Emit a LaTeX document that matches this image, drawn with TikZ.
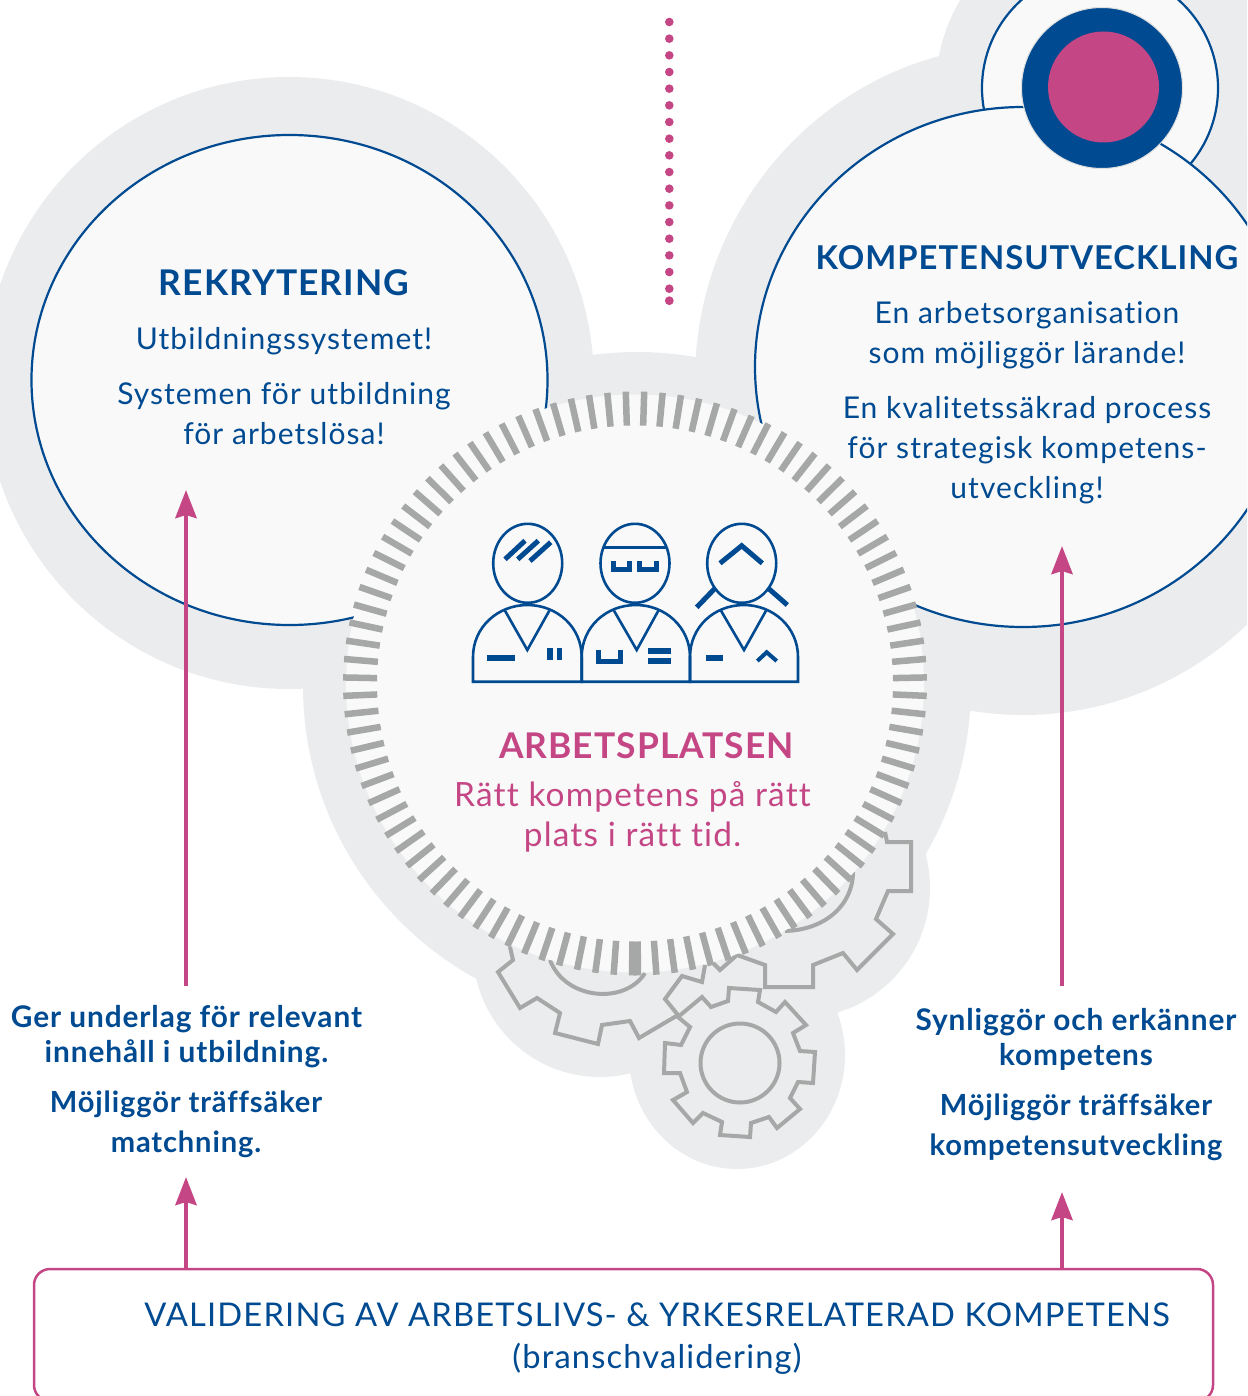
\documentclass[tikz,border=0pt]{standalone}
\usepackage{fontspec}
\setmainfont{Lato}
\usetikzlibrary{arrows.meta,calc}
\definecolor{halogray}{HTML}{EBECEE}
\definecolor{paleface}{HTML}{F9F9F9}
\definecolor{gearline}{HTML}{A6A8A7}
\definecolor{deepblue}{HTML}{004A91}
\definecolor{rosepink}{HTML}{C44685}
\newfontfamily\bodyfont[LetterSpace=3.5,Ligatures=NoCommon]{Lato}
\newfontfamily\headfont[LetterSpace=3,Ligatures=NoCommon,BoldFont={Lato Bold}]{Lato}
\tikzset{
	halo/.style={fill=halogray},
	bubble/.style={fill=paleface, draw=deepblue, line width=2.2},
	gearpath/.style={draw=gearline, line width=4, line join=miter},
	tickmark/.style={draw=gearline, line width=6.5},
	figline/.style={draw=deepblue, line width=2.6},
	figbar/.style={draw=deepblue, line width=5},
	figsolid/.style={fill=deepblue},
	risearrow/.style={draw=rosepink, line width=4.5, -{Stealth[length=28, width=21, inset=3]}},
	bigtext/.style={text=deepblue, font=\bodyfont\fontsize{30}{40}\selectfont, align=center},
	titletext/.style={text=deepblue, font=\headfont\bfseries\fontsize{35.4}{40}\selectfont, align=center},
	sidetext/.style={text=deepblue, font=\headfont\bfseries\fontsize{29.8}{35}\selectfont, align=center}
}

\begin{document}
\begin{tikzpicture}[x=1pt, y=-1pt]
		\clip (0, 0) rectangle (1247, 1396);
		
		%%%%% grey background %%%%%
		\fill[halo] (289, 383) ellipse (305 and 306);
		\fill[halo] (1023, 380) ellipse (328 and 335);
		\fill[halo] (1108, 88) circle (172);
		\fill[halo] (637, 686) circle (334);
		\fill[halo] (600, 950) circle (127);
		\fill[halo] (800, 888) circle (130);
		\fill[halo] (737, 1055) ellipse (108 and 114);
		
		%%%%% big circles %%%%%
		\draw[bubble] (1100, 88) circle (118);
		\draw[bubble] (1023, 367) ellipse (268 and 260);
		\draw[bubble] (289.5, 380) ellipse (258 and 245);
		
		\draw[fill=deepblue, draw=gray!25, line width=1] (1102, 88) circle (80.5);
		\fill[rosepink] (1103.5, 87) circle (55.5);
		
		\foreach \n in {0,...,16}
			\fill[rosepink] (669.3, {22+\n*16.67}) circle (4.3);
		\fill[rosepink] (669.3, 300.7) circle (4.4);
		
		%%%%% gears %%%%%
		\draw[gearpath] (510, 947) -- (513, 960) -- (498, 972) -- (520, 1008) -- (537, 998) -- (560, 1013) -- (555, 1033) -- (598, 1044) -- (602, 1025) -- (630, 1021) -- (639, 1038) -- (678, 1015) -- (665, 999) -- (682, 976) -- (702, 982) -- (705, 965);
		\draw[gearpath] (550, 960) .. controls (565, 1000) and (625, 1005) .. (645, 973);
		
		\draw[gearpath] (713, 963) -- (720, 970) -- (737, 955) -- (765, 965) -- (765, 987) -- (813, 987) -- (813, 965) -- (843, 953) -- (857, 970) -- (893, 934) -- (876, 919) -- (888, 891) -- (911, 891) -- (911, 842) -- (887, 842) -- (885, 832);
		\draw[gearpath] (785, 931) .. controls (825, 930) and (853, 905) .. (853, 872);
		
		\draw[gearpath] (690, 1027) -- (681, 1045) -- (665, 1043) -- (664, 1073) -- (680, 1073) -- (687, 1092) -- (673, 1100) -- (693, 1123) -- (703, 1113) -- (722, 1122) -- (720, 1135) -- (750, 1137) -- (751, 1123) -- (769, 1117) -- (777, 1128) -- (800, 1109) -- (790, 1098) -- (798, 1082) -- (813, 1083) -- (815, 1052) -- (800, 1051) -- (793, 1033) -- (806, 1025) -- (785, 1002) -- (776, 1012) -- (758, 1002) -- (760, 990) -- (729, 988) -- (728, 1001) -- (711, 1007) -- (702, 997) -- (678, 1017) -- cycle;
		\draw[gearpath] (740, 1063) circle (39.5);
		
		%%%%% ring of ticks %%%%%
		\fill[paleface] (635, 683.5) circle (289);
		\foreach \n in {0,...,99}
			\draw[tickmark] ($(635, 683.5)+({90.575+\n*3.6247}:258)$) -- ($(635, 683.5)+({90.575+\n*3.6247}:292)$);
		
		%%%%% three people %%%%%
		\draw[figline] (527.7, 563.3) ellipse (34.5 and 39.5);
		\draw[figline] (635, 563.3) ellipse (34.5 and 39.5);
		\draw[figline] (741.7, 563.3) ellipse (34.5 and 39.5);
		
		\draw[figline] (473, 681.7) -- (473, 657) .. controls (473, 627) and (498, 605) .. (527.3, 605) .. controls (557, 605) and (581.7, 627) .. (581.7, 657) -- (581.7, 681.7) -- cycle;
		\draw[figline] (581.7, 681.7) -- (581.7, 657) .. controls (581.7, 627) and (606, 605) .. (636, 605) .. controls (665, 605) and (690, 627) .. (690, 657) -- (690, 681.7) -- cycle;
		\draw[figline] (690, 681.7) -- (690, 657) .. controls (690, 627) and (714, 605) .. (744, 605) .. controls (773, 605) and (798, 627) .. (798, 657) -- (798, 681.7) -- cycle;
		
		\draw[figline] (505, 610.7) -- (527.3, 650) -- (549.3, 610.7);
		\draw[figline] (614, 610.7) -- (636.7, 650) -- (658.3, 610.7);
		\draw[figline] (721, 610.7) -- (744, 650) -- (766, 610.7);
		
		\draw[figbar] (505, 559.3) -- (525, 540.7);
		\draw[figbar] (517.7, 559.3) -- (538.3, 540.7);
		\draw[figbar] (530, 561) -- (550.7, 542.3);
		\fill[figsolid] (486.7, 655) rectangle (515, 661);
		\fill[figsolid] (547, 648.3) rectangle (552.7, 660);
		\fill[figsolid] (556.7, 648.3) rectangle (561.7, 660);
		
		\draw[figline] (603.3, 547.7) -- (666.7, 547.7);
		\draw[figbar] (613.7, 560.7) -- (613.7, 569) -- (629.7, 569) -- (629.7, 560.7);
		\draw[figbar] (639.7, 560.7) -- (639.7, 569) -- (656, 569) -- (656, 560.7);
		\draw[figbar] (598.3, 650) -- (598.3, 661.7) -- (620, 661.7) -- (620, 650);
		\fill[figsolid] (648, 648.3) rectangle (671, 654);
		\fill[figsolid] (648, 658.3) rectangle (671, 664);
		
		\draw[figbar] (720, 563.3) -- (741.7, 545.7) -- (762.3, 563.3);
		\draw[figbar] (696.7, 607.3) -- (715, 588.3);
		\draw[figbar] (768.3, 588.3) -- (787.3, 605);
		\fill[figsolid] (706, 655) rectangle (723.3, 661);
		\draw[figbar, line width=4] (757.3, 661) -- (766.7, 652.3) -- (776.7, 661);
		
		%%%%% bottom box %%%%%
		\draw[draw=rosepink, line width=2.5, rounded corners=16] (34, 1269) rectangle (1213, 1401);
		\node (validering) [text=deepblue, font=\bodyfont\fontsize{32.7}{42}\selectfont, align=center] at (657, 1339) {VALIDERING AV ARBETSLIVS- \& YRKESRELATERAD KOMPETENS\\(branschvalidering)};
		
		%%%%% texts %%%%%
		\node (rekrytering) [titletext] at (284, 283) {REKRYTERING};
		\node (utbildning) [bigtext] at (284, 341) {Utbildningssystemet!};
		\node (system) [bigtext] at (284, 414) {Systemen för utbildning\\för arbetslösa!};
		
		\node (kompetens) [titletext, font=\headfont\bfseries\fontsize{32.8}{40}\selectfont] at (1027, 258) {KOMPETENSUTVECKLING};
		\node (organisation) [bigtext] at (1027, 335) {En arbetsorganisation\\som möjliggör lärande!};
		\node (process) [bigtext] at (1027, 450.5) {En kvalitetssäkrad process\\för strategisk kompetens-\\utveckling!};
		
		\node (arbetsplatsen) [titletext, text=rosepink] at (646.5, 746) {ARBETSPLATSEN};
		\node (ratt) [bigtext, text=rosepink, font=\bodyfont\fontsize{33.4}{40}\selectfont] at (632.5, 817) {Rätt kompetens på rätt\\plats i rätt tid.};
		
		\node (underlag) [sidetext] at (186.5, 1037) {Ger underlag för relevant\\innehåll i utbildning.};
		\node (matchning) [sidetext, font=\headfont\bfseries\fontsize{29.1}{40}\selectfont] at (186, 1124) {Möjliggör träffsäker\\matchning.};
		\node (synliggor) [sidetext] at (1076, 1039.5) {Synliggör och erkänner\\kompetens};
		\node (kompetensutv) [sidetext, font=\headfont\bfseries\fontsize{29.1}{40}\selectfont] at (1076, 1127) {Möjliggör träffsäker\\kompetensutveckling};
		
		%%%%% arrows %%%%%
		\coordinate (tipA) at (186, 490);
		\coordinate (tailA) at (186, 986);
		\coordinate (tipB) at (1062, 546);
		\coordinate (tailB) at (1062, 986);
		\coordinate (tipC) at (186, 1177);
		\coordinate (tipD) at (1062, 1192);
		\coordinate (boxtop) at (0, 1269);
		\draw[risearrow] (tailA) -- (tipA);
		\draw[risearrow] (tailB) -- (tipB);
		\draw[risearrow] (boxtop -| tipC) -- (tipC);
		\draw[risearrow] (boxtop -| tipD) -- (tipD);
	\end{tikzpicture}
\end{document}
